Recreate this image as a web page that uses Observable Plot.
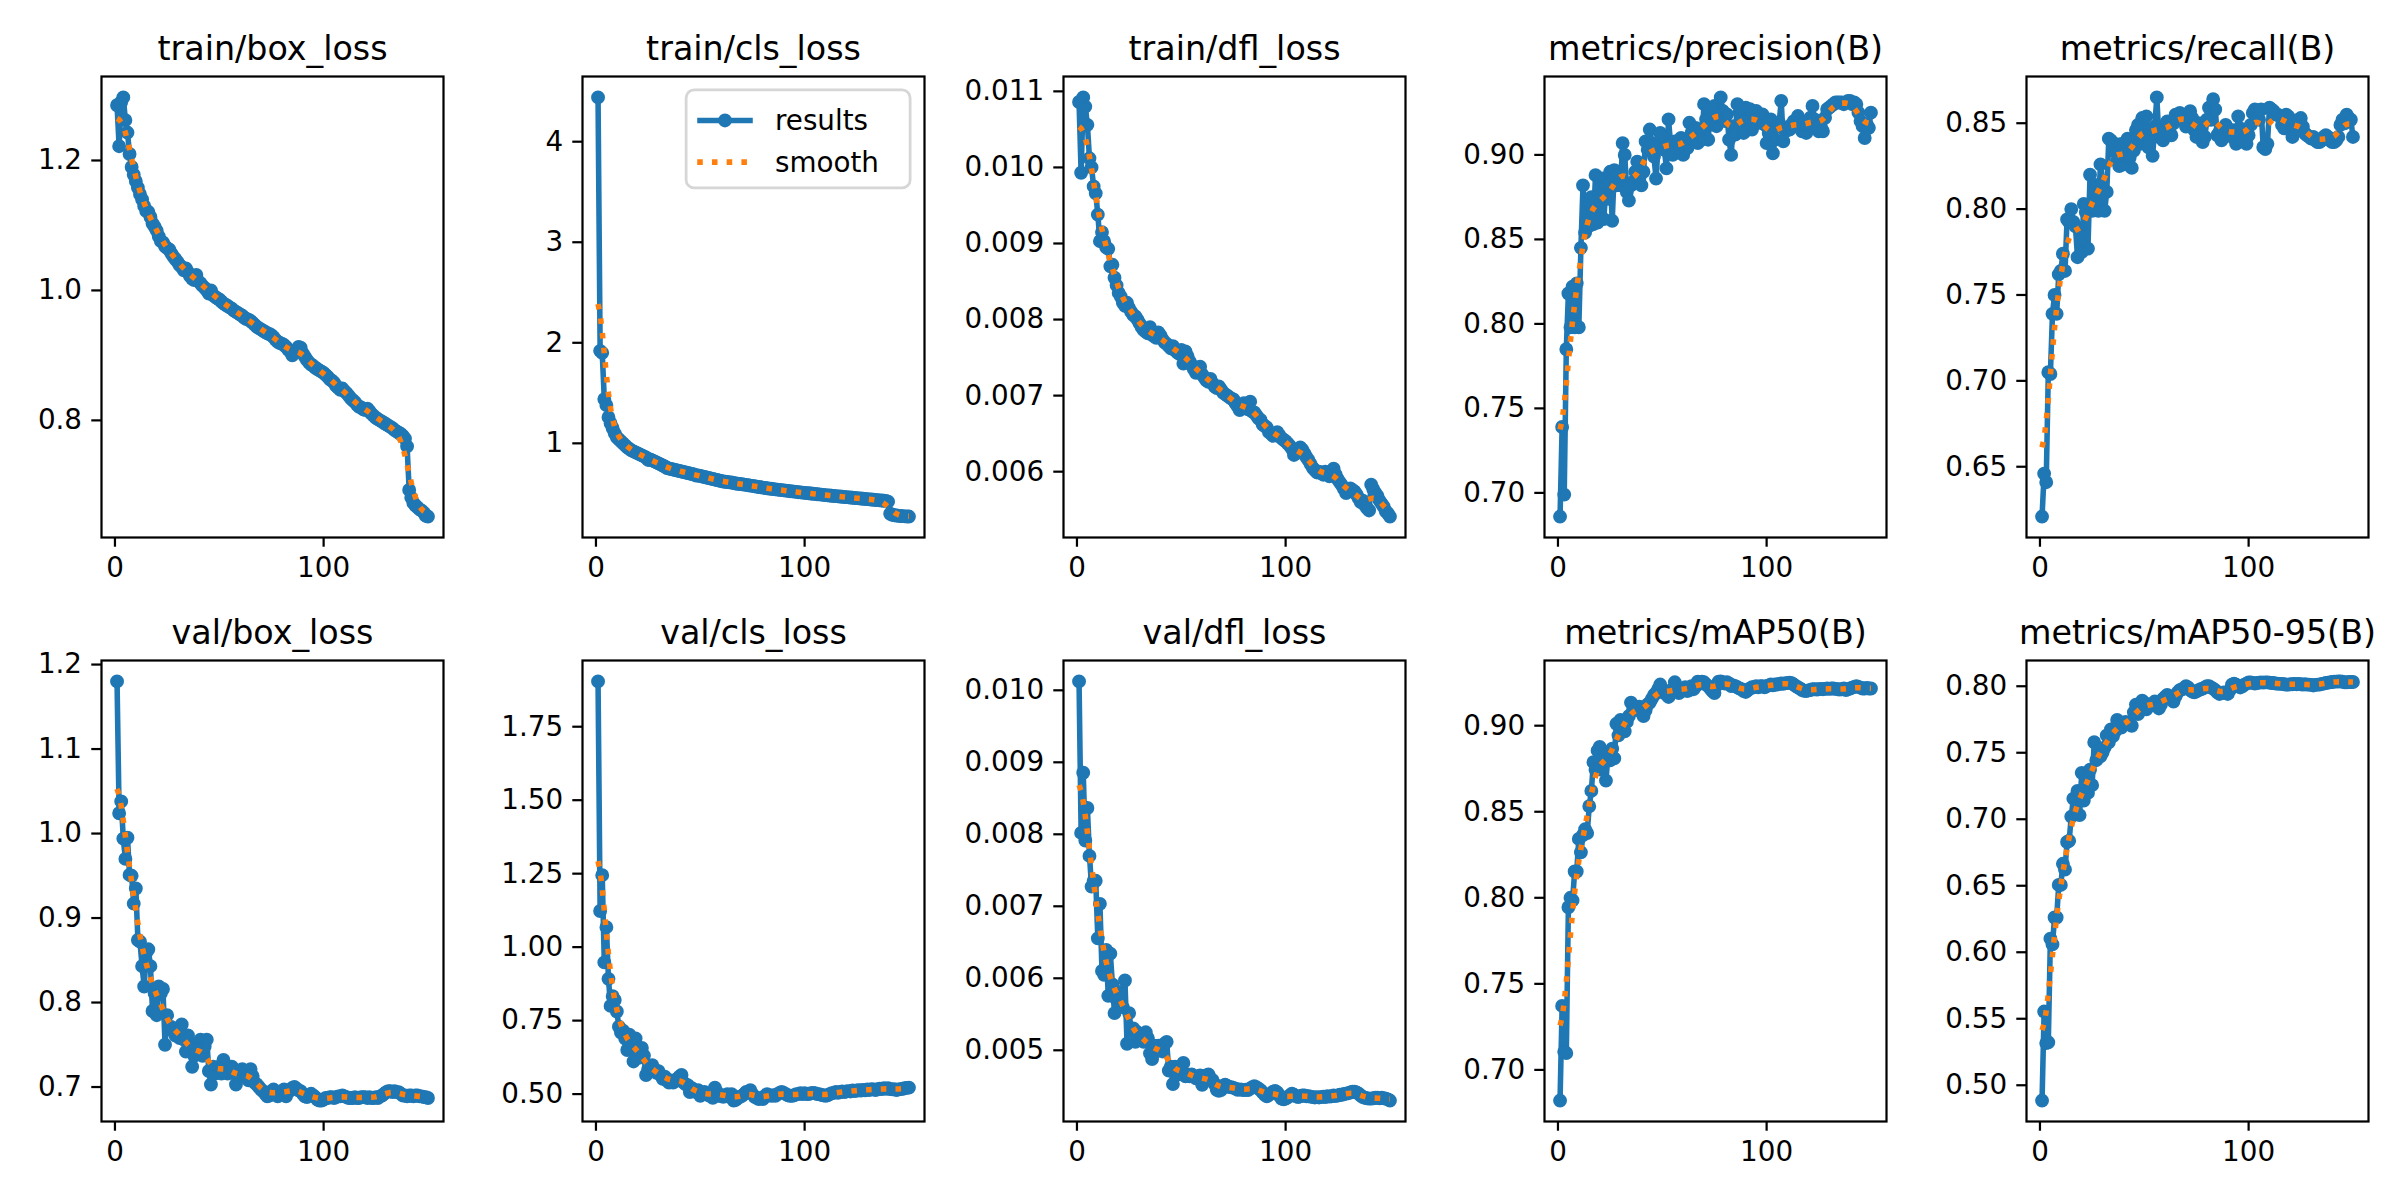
<!DOCTYPE html>
<html><head><meta charset="utf-8">
<script src="https://cdn.jsdelivr.net/npm/d3@7"></script>
<script src="https://cdn.jsdelivr.net/npm/@observablehq/plot@0.6"></script>
<style>
html,body{margin:0;padding:0;background:#fff;}
#fig{position:relative;width:2400px;height:1200px;background:#fff;overflow:hidden;font-family:"DejaVu Sans";}
</style></head><body><div id="fig"></div>
<script>
// ---------------- data ----------------
const epochs = d3.range(1, 151);
const titles = ["train/box_loss","train/cls_loss","train/dfl_loss","metrics/precision(B)","metrics/recall(B)",
                "val/box_loss","val/cls_loss","val/dfl_loss","metrics/mAP50(B)","metrics/mAP50-95(B)"];

const trainBoxLoss = [1.285,1.222,1.290,1.297,1.262,1.243,1.210,1.190,1.178,1.168,
1.158,1.148,1.140,1.130,1.122,1.121,1.113,1.103,1.098,1.092,
1.083,1.076,1.074,1.068,1.065,1.063,1.057,1.052,1.048,1.044,
1.039,1.036,1.031,1.034,1.028,1.022,1.018,1.016,1.024,1.014,
1.011,1.007,1.004,1.000,0.995,1.000,0.993,0.990,0.988,0.986,
0.983,0.980,0.978,0.976,0.974,0.972,0.969,0.967,0.965,0.963,
0.961,0.958,0.956,0.955,0.953,0.950,0.947,0.944,0.942,0.940,
0.938,0.936,0.934,0.933,0.931,0.928,0.924,0.921,0.919,0.918,
0.916,0.913,0.909,0.906,0.900,0.905,0.907,0.913,0.912,0.903,
0.898,0.893,0.889,0.886,0.884,0.881,0.879,0.877,0.875,0.873,
0.870,0.867,0.863,0.861,0.858,0.853,0.850,0.847,0.849,0.845,
0.842,0.838,0.834,0.831,0.828,0.824,0.821,0.820,0.817,0.816,
0.818,0.814,0.810,0.807,0.804,0.802,0.800,0.798,0.796,0.794,
0.792,0.790,0.788,0.785,0.783,0.781,0.779,0.776,0.772,0.760,
0.693,0.681,0.673,0.669,0.666,0.663,0.661,0.658,0.653,0.652];

const trainClsLoss = [4.44,1.92,1.90,1.44,1.38,1.26,1.20,1.15,1.10,1.06,
1.04,1.02,1.00,0.98,0.96,0.945,0.93,0.92,0.91,0.90,
0.89,0.88,0.87,0.86,0.835,0.84,0.83,0.82,0.81,0.80,
0.79,0.78,0.77,0.755,0.75,0.745,0.74,0.735,0.73,0.725,
0.72,0.715,0.71,0.705,0.70,0.695,0.69,0.68,0.68,0.675,
0.67,0.665,0.66,0.655,0.65,0.645,0.64,0.635,0.63,0.625,
0.62,0.618,0.615,0.612,0.61,0.605,0.60,0.598,0.595,0.593,
0.59,0.587,0.583,0.58,0.577,0.573,0.57,0.566,0.563,0.56,
0.557,0.553,0.55,0.548,0.545,0.542,0.54,0.537,0.535,0.532,
0.53,0.527,0.524,0.522,0.52,0.517,0.514,0.512,0.51,0.507,
0.505,0.503,0.501,0.499,0.497,0.494,0.492,0.49,0.488,0.485,
0.483,0.481,0.479,0.477,0.475,0.473,0.471,0.469,0.467,0.465,
0.463,0.461,0.459,0.457,0.455,0.453,0.451,0.449,0.447,0.445,
0.443,0.441,0.439,0.437,0.435,0.433,0.431,0.429,0.427,0.42,
0.30,0.29,0.285,0.282,0.279,0.277,0.276,0.274,0.273,0.272];

const trainDflLoss = [0.01086,0.00993,0.01092,0.01080,0.01056,0.01012,0.01000,0.00975,0.00966,0.00938,
0.00903,0.00915,0.00903,0.00895,0.00893,0.00870,0.00872,0.00855,0.00845,0.00835,
0.00830,0.00822,0.00818,0.00822,0.00815,0.00810,0.00806,0.00804,0.00800,0.00795,
0.00790,0.00786,0.00784,0.00782,0.00790,0.00780,0.00778,0.00776,0.00783,0.00779,
0.00774,0.00770,0.00768,0.00765,0.00762,0.00765,0.00760,0.00757,0.00755,0.00760,
0.00742,0.00758,0.00752,0.00745,0.00740,0.00735,0.00730,0.00733,0.00738,0.00728,
0.00724,0.00720,0.00718,0.00722,0.00716,0.00712,0.00710,0.00712,0.00708,0.00704,
0.00702,0.00700,0.00698,0.00696,0.00695,0.00690,0.00686,0.00681,0.00684,0.00690,
0.00686,0.00682,0.00692,0.00679,0.00678,0.00674,0.00670,0.00668,0.00662,0.00660,
0.00658,0.00652,0.00650,0.00647,0.00650,0.00652,0.00648,0.00644,0.00642,0.00640,
0.00637,0.00634,0.00630,0.00622,0.00624,0.00628,0.00632,0.00629,0.00624,0.00619,
0.00615,0.00610,0.00605,0.00602,0.00599,0.00600,0.00598,0.00596,0.00600,0.00598,
0.00594,0.00598,0.00604,0.00596,0.00590,0.00586,0.00582,0.00577,0.00572,0.00575,
0.00578,0.00576,0.00574,0.00570,0.00565,0.00560,0.00562,0.00556,0.00552,0.00549,
0.00583,0.00577,0.00572,0.00568,0.00562,0.00558,0.00554,0.00548,0.00545,0.00541];

const precision = [0.686,0.739,0.699,0.785,0.818,0.798,0.822,0.798,0.824,0.798,
0.845,0.882,0.854,0.872,0.858,0.875,0.859,0.888,0.860,0.870,
0.886,0.862,0.882,0.874,0.890,0.861,0.891,0.882,0.890,0.882,
0.907,0.900,0.878,0.873,0.882,0.884,0.890,0.896,0.886,0.882,
0.890,0.908,0.903,0.915,0.907,0.899,0.886,0.905,0.913,0.910,
0.903,0.892,0.921,0.906,0.900,0.908,0.904,0.907,0.910,0.900,
0.907,0.904,0.919,0.913,0.909,0.916,0.907,0.915,0.909,0.930,
0.921,0.909,0.927,0.918,0.929,0.917,0.923,0.934,0.926,0.920,
0.924,0.909,0.900,0.917,0.912,0.930,0.925,0.917,0.913,0.928,
0.921,0.927,0.915,0.920,0.926,0.919,0.921,0.924,0.918,0.907,
0.913,0.921,0.901,0.909,0.917,0.919,0.932,0.908,0.914,0.916,
0.915,0.918,0.920,0.917,0.923,0.919,0.914,0.918,0.913,0.917,
0.922,0.929,0.921,0.918,0.914,0.917,0.914,0.922,0.927,0.928,
0.929,0.930,0.931,0.931,0.931,0.931,0.930,0.931,0.932,0.932,
0.930,0.931,0.930,0.925,0.920,0.917,0.910,0.918,0.916,0.925];

const recall = [0.621,0.646,0.641,0.705,0.704,0.739,0.750,0.739,0.762,0.764,
0.774,0.764,0.794,0.7925,0.800,0.7925,0.790,0.772,0.789,0.775,
0.803,0.798,0.777,0.820,0.799,0.814,0.809,0.799,0.826,0.816,
0.799,0.810,0.841,0.840,0.834,0.838,0.828,0.825,0.838,0.826,
0.832,0.841,0.830,0.824,0.834,0.846,0.849,0.838,0.853,0.844,
0.854,0.836,0.846,0.831,0.848,0.865,0.842,0.848,0.840,0.845,
0.851,0.848,0.843,0.850,0.855,0.853,0.856,0.855,0.852,0.848,
0.852,0.857,0.853,0.846,0.842,0.850,0.845,0.839,0.842,0.852,
0.859,0.852,0.864,0.858,0.843,0.845,0.840,0.845,0.849,0.847,
0.844,0.842,0.846,0.838,0.854,0.847,0.844,0.839,0.838,0.843,
0.849,0.856,0.858,0.857,0.852,0.858,0.836,0.835,0.838,0.859,
0.858,0.857,0.855,0.855,0.854,0.849,0.847,0.855,0.854,0.850,
0.842,0.847,0.848,0.852,0.853,0.848,0.844,0.843,0.842,0.841,
0.842,0.840,0.839,0.839,0.840,0.842,0.843,0.842,0.840,0.839,
0.839,0.840,0.842,0.849,0.852,0.850,0.855,0.853,0.852,0.842];

const valBoxLoss = [1.180,1.024,1.038,0.994,0.970,0.995,0.951,0.950,0.917,0.935,
0.874,0.872,0.843,0.819,0.859,0.863,0.843,0.790,0.811,0.785,
0.819,0.811,0.816,0.750,0.785,0.769,0.771,0.766,0.761,0.769,
0.758,0.774,0.756,0.742,0.761,0.748,0.724,0.737,0.750,0.740,
0.756,0.737,0.748,0.756,0.719,0.703,0.724,0.716,0.721,0.724,
0.716,0.732,0.724,0.716,0.721,0.724,0.721,0.703,0.711,0.713,
0.721,0.713,0.719,0.708,0.721,0.713,0.705,0.703,0.700,0.697,
0.695,0.692,0.689,0.690,0.695,0.697,0.695,0.689,0.692,0.695,
0.697,0.689,0.694,0.696,0.699,0.700,0.698,0.696,0.695,0.692,
0.689,0.688,0.690,0.692,0.690,0.688,0.685,0.684,0.684,0.685,
0.687,0.687,0.688,0.688,0.687,0.688,0.689,0.689,0.690,0.689,
0.688,0.687,0.687,0.687,0.688,0.687,0.687,0.688,0.688,0.688,
0.687,0.688,0.687,0.687,0.688,0.687,0.689,0.690,0.692,0.694,
0.695,0.695,0.694,0.695,0.694,0.694,0.692,0.690,0.690,0.689,
0.690,0.690,0.689,0.690,0.690,0.689,0.689,0.688,0.688,0.687];

const valClsLoss = [1.904,1.123,1.245,0.948,1.068,0.892,0.800,0.833,0.820,0.781,
0.729,0.709,0.716,0.689,0.650,0.702,0.676,0.611,0.689,0.650,
0.624,0.657,0.631,0.565,0.585,0.578,0.598,0.585,0.572,0.578,
0.565,0.552,0.559,0.546,0.539,0.546,0.539,0.546,0.552,0.559,
0.565,0.539,0.533,0.530,0.507,0.520,0.513,0.507,0.513,0.494,
0.500,0.507,0.500,0.496,0.494,0.487,0.522,0.507,0.494,0.494,
0.491,0.496,0.500,0.491,0.500,0.478,0.480,0.487,0.491,0.494,
0.500,0.507,0.507,0.513,0.500,0.491,0.487,0.483,0.487,0.483,
0.494,0.500,0.496,0.494,0.496,0.494,0.500,0.504,0.507,0.504,
0.500,0.496,0.494,0.494,0.496,0.500,0.500,0.503,0.500,0.503,
0.500,0.500,0.503,0.504,0.503,0.500,0.500,0.497,0.496,0.494,
0.496,0.500,0.503,0.504,0.507,0.504,0.507,0.509,0.507,0.509,
0.510,0.509,0.512,0.510,0.512,0.513,0.512,0.514,0.513,0.516,
0.514,0.517,0.516,0.514,0.517,0.518,0.517,0.520,0.518,0.520,
0.517,0.516,0.517,0.514,0.516,0.517,0.518,0.520,0.521,0.522];

const valDflLoss = [0.010123,0.008019,0.008855,0.007913,0.008365,0.007700,0.007274,0.007354,0.007354,0.006555,
0.007034,0.006102,0.006049,0.006395,0.005756,0.006342,0.005916,0.005517,0.005703,0.005809,
0.005756,0.005596,0.005969,0.005091,0.005517,0.005277,0.005304,0.005117,0.005250,0.005144,
0.005224,0.005117,0.005250,0.005170,0.004957,0.004878,0.005064,0.004984,0.005064,0.005011,
0.004984,0.005091,0.005117,0.004718,0.004771,0.004531,0.004771,0.004718,0.004665,0.004744,
0.004824,0.004638,0.004665,0.004638,0.004665,0.004638,0.004611,0.004638,0.004649,0.004521,
0.004585,0.004649,0.004665,0.004611,0.004585,0.004531,0.004452,0.004436,0.004446,0.004505,
0.004521,0.004505,0.004489,0.004489,0.004478,0.004468,0.004452,0.004457,0.004452,0.004446,
0.004452,0.004446,0.004468,0.004489,0.004500,0.004489,0.004468,0.004446,0.004414,0.004382,
0.004361,0.004382,0.004398,0.004425,0.004436,0.004414,0.004372,0.004329,0.004318,0.004329,
0.004345,0.004372,0.004398,0.004382,0.004361,0.004350,0.004361,0.004372,0.004372,0.004361,
0.004361,0.004356,0.004350,0.004345,0.004350,0.004345,0.004350,0.004356,0.004350,0.004361,
0.004356,0.004361,0.004372,0.004366,0.004372,0.004382,0.004382,0.004393,0.004398,0.004404,
0.004414,0.004425,0.004425,0.004414,0.004398,0.004372,0.004350,0.004340,0.004334,0.004329,
0.004329,0.004334,0.004340,0.004340,0.004334,0.004340,0.004334,0.004329,0.004318,0.004302];

const mAP50 = [0.6822,0.7372,0.7105,0.7098,0.7945,0.8000,0.7985,0.8153,0.8153,0.8342,
0.8264,0.8365,0.8398,0.8376,0.8532,0.8621,0.8788,0.8744,0.8855,0.8877,
0.8744,0.8799,0.8681,0.8833,0.8799,0.8866,0.8810,0.9011,0.8944,0.9033,
0.8989,0.8967,0.9022,0.9056,0.9134,0.9089,0.9111,0.9100,0.9111,0.9078,
0.9056,0.9089,0.9123,0.9134,0.9156,0.9178,0.9190,0.9212,0.9239,0.9201,
0.9190,0.9201,0.9167,0.9190,0.9212,0.9252,0.9212,0.9190,0.9207,0.9216,
0.9223,0.9201,0.9207,0.9230,0.9212,0.9230,0.9256,0.9245,0.9256,0.9252,
0.9239,0.9230,0.9216,0.9201,0.9190,0.9234,0.9256,0.9257,0.9252,0.9245,
0.9252,0.9245,0.9230,0.9234,0.9230,0.9223,0.9216,0.9212,0.9201,0.9196,
0.9207,0.9216,0.9223,0.9223,0.9230,0.9223,0.9230,0.9230,0.9223,0.9230,
0.9234,0.9239,0.9234,0.9239,0.9239,0.9243,0.9245,0.9243,0.9247,0.9247,
0.9250,0.9247,0.9239,0.9230,0.9223,0.9216,0.9207,0.9203,0.9201,0.9205,
0.9207,0.9212,0.9212,0.9210,0.9212,0.9214,0.9212,0.9214,0.9216,0.9214,
0.9216,0.9216,0.9214,0.9212,0.9210,0.9212,0.9216,0.9207,0.9212,0.9216,
0.9221,0.9225,0.9230,0.9225,0.9221,0.9216,0.9216,0.9219,0.9216,0.9216];

const mAP5095 = [0.4885,0.5554,0.5317,0.5323,0.6102,0.6059,0.6261,0.6261,0.6506,0.6506,
0.6665,0.6621,0.6829,0.6838,0.7020,0.7155,0.7040,0.7213,0.7031,0.7349,
0.7141,0.7285,0.7198,0.7372,0.7256,0.7579,0.7444,0.7516,0.7473,0.7501,
0.7539,0.7631,0.7579,0.7675,0.7626,0.7660,0.7747,0.7712,0.7689,0.7718,
0.7732,0.7724,0.7712,0.7703,0.7804,0.7862,0.7790,0.7839,0.7891,0.7877,
0.7827,0.7848,0.7862,0.7868,0.7885,0.7868,0.7833,0.7862,0.7905,0.7920,
0.7934,0.7914,0.7905,0.7885,0.7925,0.7954,0.7971,0.7977,0.7982,0.8000,
0.7991,0.7971,0.7959,0.7954,0.7962,0.7971,0.7977,0.7982,0.7991,0.8000,
0.8000,0.7991,0.7982,0.7971,0.7954,0.7942,0.7948,0.7954,0.7948,0.7942,
0.7971,0.8012,0.8020,0.8012,0.8000,0.7991,0.8000,0.8012,0.8020,0.8029,
0.8029,0.8024,0.8020,0.8024,0.8027,0.8029,0.8027,0.8029,0.8029,0.8027,
0.8024,0.8024,0.8020,0.8020,0.8018,0.8018,0.8015,0.8012,0.8012,0.8015,
0.8015,0.8018,0.8015,0.8018,0.8015,0.8012,0.8015,0.8012,0.8012,0.8010,
0.8006,0.8010,0.8012,0.8012,0.8018,0.8020,0.8024,0.8027,0.8029,0.8032,
0.8035,0.8035,0.8036,0.8036,0.8035,0.8029,0.8029,0.8032,0.8032,0.8032];

const seriesValues = [trainBoxLoss, trainClsLoss, trainDflLoss, precision, recall,
                      valBoxLoss, valClsLoss, valDflLoss, mAP50, mAP5095];

const xTickValues = [0, 100];
const xTickLabels = ["0", "100"];
const yTickValues = [
  [0.8, 1.0, 1.2],
  [1, 2, 3, 4],
  [0.006, 0.007, 0.008, 0.009, 0.010, 0.011],
  [0.70, 0.75, 0.80, 0.85, 0.90],
  [0.65, 0.70, 0.75, 0.80, 0.85],
  [0.7, 0.8, 0.9, 1.0, 1.1, 1.2],
  [0.50, 0.75, 1.00, 1.25, 1.50, 1.75],
  [0.005, 0.006, 0.007, 0.008, 0.009, 0.010],
  [0.70, 0.75, 0.80, 0.85, 0.90],
  [0.50, 0.55, 0.60, 0.65, 0.70, 0.75, 0.80]
];
const yTickLabels = [
  ["0.8","1.0","1.2"],
  ["1","2","3","4"],
  ["0.006","0.007","0.008","0.009","0.010","0.011"],
  ["0.70","0.75","0.80","0.85","0.90"],
  ["0.65","0.70","0.75","0.80","0.85"],
  ["0.7","0.8","0.9","1.0","1.1","1.2"],
  ["0.50","0.75","1.00","1.25","1.50","1.75"],
  ["0.005","0.006","0.007","0.008","0.009","0.010"],
  ["0.70","0.75","0.80","0.85","0.90"],
  ["0.50","0.55","0.60","0.65","0.70","0.75","0.80"]
];
const legendLabels = ["results", "smooth"];

// ---------------- helpers ----------------
// Gaussian smoothing (sigma 3, reflect mode) as used by the original plotting routine
function gaussianSmooth(y, sigma = 3) {
  const r = Math.floor(4 * sigma + 0.5);
  const w = []; let s = 0;
  for (let k = -r; k <= r; k++) { const v = Math.exp(-0.5 * k * k / (sigma * sigma)); w.push(v); s += v; }
  const n = y.length;
  const idx = i => { while (i < 0 || i >= n) { if (i < 0) i = -i - 1; if (i >= n) i = 2 * n - i - 1; } return i; };
  return y.map((_, i) => { let a = 0; for (let k = -r; k <= r; k++) a += w[k + r] * y[idx(i + k)]; return a / s; });
}

// ---------------- layout ----------------
const PT = 200 / 72;             // px per point (200 dpi)
const FS = 10 * PT;              // tick label font
const TFS = 12 * PT;             // title font
const boxW = 342, boxH = 461;
const ML = 125, MR = 20, MT = 72, MB = 72;
const colLeft = [101, 582, 1063, 1544, 2026];
const rowTop = [76, 660];
const BLUE = "#1f77b4", ORANGE = "#ff7f0e";
const fig = document.getElementById("fig");

seriesValues.forEach((vals, i) => {
  const r = Math.floor(i / 5), c = i % 5;
  const sm = gaussianSmooth(vals, 3);
  const data = epochs.map((e, j) => ({x: e, y: vals[j], s: sm[j]}));
  const all = vals.concat(sm);
  const lo = d3.min(all), hi = d3.max(all), pad = 0.05 * (hi - lo);
  const x0 = d3.min(epochs), x1 = d3.max(epochs), xp = 0.05 * (x1 - x0);
  const ylab = new Map(yTickValues[i].map((t, k) => [t, yTickLabels[i][k]]));
  const xlab = new Map(xTickValues.map((t, k) => [t, xTickLabels[k]]));
  const chart = Plot.plot({
    width: boxW + ML + MR, height: boxH + MT + MB,
    marginLeft: ML, marginRight: MR, marginTop: MT, marginBottom: MB,
    style: {fontFamily: "DejaVu Sans", fontSize: FS + "px", background: "transparent", color: "black", overflow: "visible"},
    x: {domain: [x0 - xp, x1 + xp]},
    y: {domain: [lo - pad, hi + pad]},
    marks: [
      Plot.line(data, {x: "x", y: "y", stroke: BLUE, strokeWidth: 2 * PT, strokeLinejoin: "round"}),
      Plot.dot(data, {x: "x", y: "y", r: 2 * PT, fill: BLUE, stroke: BLUE, strokeWidth: 1 * PT}),
      Plot.line(data, {x: "x", y: "s", stroke: ORANGE, strokeWidth: 2 * PT, strokeDasharray: `${2 * PT} ${3.3 * PT}`, strokeLinecap: "butt"}),
      Plot.axisX({ticks: xTickValues, tickFormat: d => xlab.get(d), tickSize: 3.5 * PT, tickPadding: 3.5 * PT, strokeWidth: 0.8 * PT, fontSize: FS, label: null}),
      Plot.axisY({ticks: yTickValues[i], tickFormat: d => ylab.get(d), tickSize: 3.5 * PT, tickPadding: 3.5 * PT, strokeWidth: 0.8 * PT, fontSize: FS, label: null}),
      Plot.frame({stroke: "black", strokeWidth: 0.8 * PT}),
      Plot.text([titles[i]], {frameAnchor: "top", dy: -6 * PT, lineAnchor: "bottom", textAnchor: "middle", fontSize: TFS, fill: "black", text: d => d})
    ]
  });
  chart.style.position = "absolute";
  chart.style.left = (colLeft[c] - ML) + "px";
  chart.style.top = (rowTop[r] - MT) + "px";
  fig.appendChild(chart);
});

// ---------------- legend (in train/cls_loss panel, upper right) ----------------
{
  const lw = 224, lh = 98;
  const lx = colLeft[1] + boxW - 0.5 * FS - lw;
  const ly = rowTop[0] + 0.5 * FS;
  const svg = d3.select(fig).append("svg")
    .attr("width", 2400).attr("height", 1200)
    .style("position", "absolute").style("left", "0px").style("top", "0px")
    .style("font-family", "DejaVu Sans");
  svg.append("rect").attr("x", lx).attr("y", ly).attr("width", lw).attr("height", lh)
    .attr("rx", 8).attr("fill", "white").attr("fill-opacity", 0.8)
    .attr("stroke", "#d6d6d6").attr("stroke-width", 1 * PT);
  const hx0 = lx + 0.4 * FS, hx1 = hx0 + 2 * FS, tx = hx1 + 0.8 * FS;
  const rowY = [ly + 0.4 * FS + 0.5 * FS + 0.2 * FS, ly + 0.4 * FS + 0.5 * FS + 0.2 * FS + 1.5 * FS];
  svg.append("line").attr("x1", hx0).attr("x2", hx1).attr("y1", rowY[0]).attr("y2", rowY[0])
    .attr("stroke", BLUE).attr("stroke-width", 2 * PT);
  svg.append("circle").attr("cx", (hx0 + hx1) / 2).attr("cy", rowY[0]).attr("r", 2 * PT)
    .attr("fill", BLUE).attr("stroke", BLUE).attr("stroke-width", 1 * PT);
  svg.append("line").attr("x1", hx0).attr("x2", hx1).attr("y1", rowY[1]).attr("y2", rowY[1])
    .attr("stroke", ORANGE).attr("stroke-width", 2 * PT)
    .attr("stroke-dasharray", `${2 * PT} ${3.3 * PT}`);
  legendLabels.forEach((t, k) => {
    svg.append("text").attr("x", tx).attr("y", rowY[k]).attr("dy", "0.35em")
      .attr("font-size", FS).attr("fill", "black").text(t);
  });
}
</script>
</body></html>
